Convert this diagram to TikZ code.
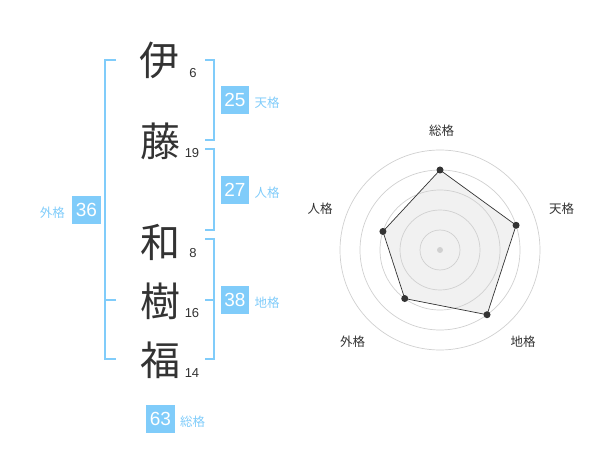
\documentclass[tikz,border=0pt]{standalone}
\usepackage{fontspec}
\setmainfont{Liberation Sans}
\newfontfamily\cjk{Noto Sans CJK JP}
\usetikzlibrary{positioning}
\definecolor{kakublue}{RGB}{128,204,250}
\definecolor{inkgray}{RGB}{51,51,51}
\definecolor{ringgray}{RGB}{208,208,208}
\definecolor{areagray}{RGB}{241,241,241}

\begin{document}
\begin{tikzpicture}[x=1pt, y=-1pt,
  kanji/.style={font=\cjk\fontsize{40}{40}\selectfont, text=inkgray, inner sep=0pt},
  strokes/.style={font=\fontsize{13}{13}\selectfont, text=inkgray, inner sep=0pt},
  kakubox/.style={fill=kakublue, text=white, minimum size=28.5pt, inner sep=0pt, font=\fontsize{19}{19}\selectfont},
  kakulabel/.style={text=kakublue, font=\cjk\fontsize{12.5}{12.5}\selectfont, inner sep=0pt},
  bracket/.style={draw=kakublue, line width=1.4pt},
  ring/.style={draw=ringgray, line width=0.7pt},
  axislabel/.style={text=inkgray, font=\cjk\fontsize{12.5}{12.5}\selectfont, inner sep=0pt}]
                \useasboundingbox (0,0) rectangle (600,470);
                % name characters and stroke counts
                \node[kanji] (k1) at (159,60) {伊};
                \node[kanji] (k2) at (160,141) {藤};
                \node[kanji] (k3) at (160,242) {和};
                \node[kanji] (k4) at (160,301) {樹};
                \node[kanji] (k5) at (160,360) {福};
                \node[strokes] (n1) at (193,73) {6};
                \node[strokes] (n2) at (192,153) {19};
                \node[strokes] (n3) at (193,253) {8};
                \node[strokes] (n4) at (192,313) {16};
                \node[strokes] (n5) at (192,373) {14};
                % brackets
                \coordinate (t1) at (205,60);  \coordinate (t1e) at (214,60);
                \coordinate (b1) at (205,140); \coordinate (b1e) at (214,140);
                \coordinate (t2) at (205,149); \coordinate (t2e) at (214,149);
                \coordinate (b2) at (205,230); \coordinate (b2e) at (214,230);
                \coordinate (t3) at (205,239); \coordinate (t3e) at (214,239);
                \coordinate (m3) at (205,300); \coordinate (m3e) at (214,300);
                \coordinate (b3) at (205,359); \coordinate (b3e) at (214,359);
                \coordinate (lt) at (116,60);  \coordinate (lte) at (105,60);
                \coordinate (lm) at (116,300); \coordinate (lme) at (105,300);
                \coordinate (lb) at (116,359); \coordinate (lbe) at (105,359);
                \draw[bracket] (t1) -- (t1e) -- (b1e) -- (b1);
                \draw[bracket] (t2) -- (t2e) -- (b2e) -- (b2);
                \draw[bracket] (t3) -- (t3e) -- (b3e) -- (b3);
                \draw[bracket] (m3) -- (m3e);
                \draw[bracket] (lt) -- (lte) -- (lbe) -- (lb);
                \draw[bracket] (lm) -- (lme);
                % totals
                \node[kakubox] (ten) at (235,100) {25};
                \node[kakulabel, right=5pt of ten, yshift=-3pt] (tenl) {天格};
                \node[kakubox] (jin) at (235,190) {27};
                \node[kakulabel, right=5pt of jin, yshift=-3pt] (jinl) {人格};
                \node[kakubox] (chi) at (235,300) {38};
                \node[kakulabel, right=5pt of chi, yshift=-3pt] (chil) {地格};
                \node[kakubox] (gai) at (86.5,210) {36};
                \node[kakulabel, left=7pt of gai, yshift=-3pt] (gail) {外格};
                \node[kakubox] (sou) at (160.5,419) {63};
                \node[kakulabel, right=5pt of sou, yshift=-3pt] (soul) {総格};
                % radar chart
                \begin{scope}[shift={(440,250)}, y=1pt]
                  \coordinate (rsou) at (90:80);
                  \coordinate (rten) at (18:80);
                  \coordinate (rchi) at (-54:80);
                  \coordinate (rgai) at (-126:60);
                  \coordinate (rjin) at (162:60);
                  \fill[areagray] (rsou) -- (rten) -- (rchi) -- (rgai) -- (rjin) -- cycle;
                  \foreach \r in {20,40,60,80,100}
                    \draw[ring] (0,0) circle (\r);
                  \fill[ringgray] (0,0) circle (3);
                  \draw[inkgray, line width=0.7pt] (rsou) -- (rten) -- (rchi) -- (rgai) -- (rjin) -- cycle;
                  \foreach \p in {rsou,rten,rchi,rgai,rjin}
                    \fill[inkgray] (\p) circle (3.5);
                  \node[axislabel] (asou) at (1.7,119.3) {総格};
                  \node[axislabel] (aten) at (121.7,41) {天格};
                  \node[axislabel] (achi) at (83,-91.7) {地格};
                  \node[axislabel] (agai) at (-87.3,-91.7) {外格};
                  \node[axislabel] (ajin) at (-120,41) {人格};
                \end{scope}
            \end{tikzpicture}
\end{document}
